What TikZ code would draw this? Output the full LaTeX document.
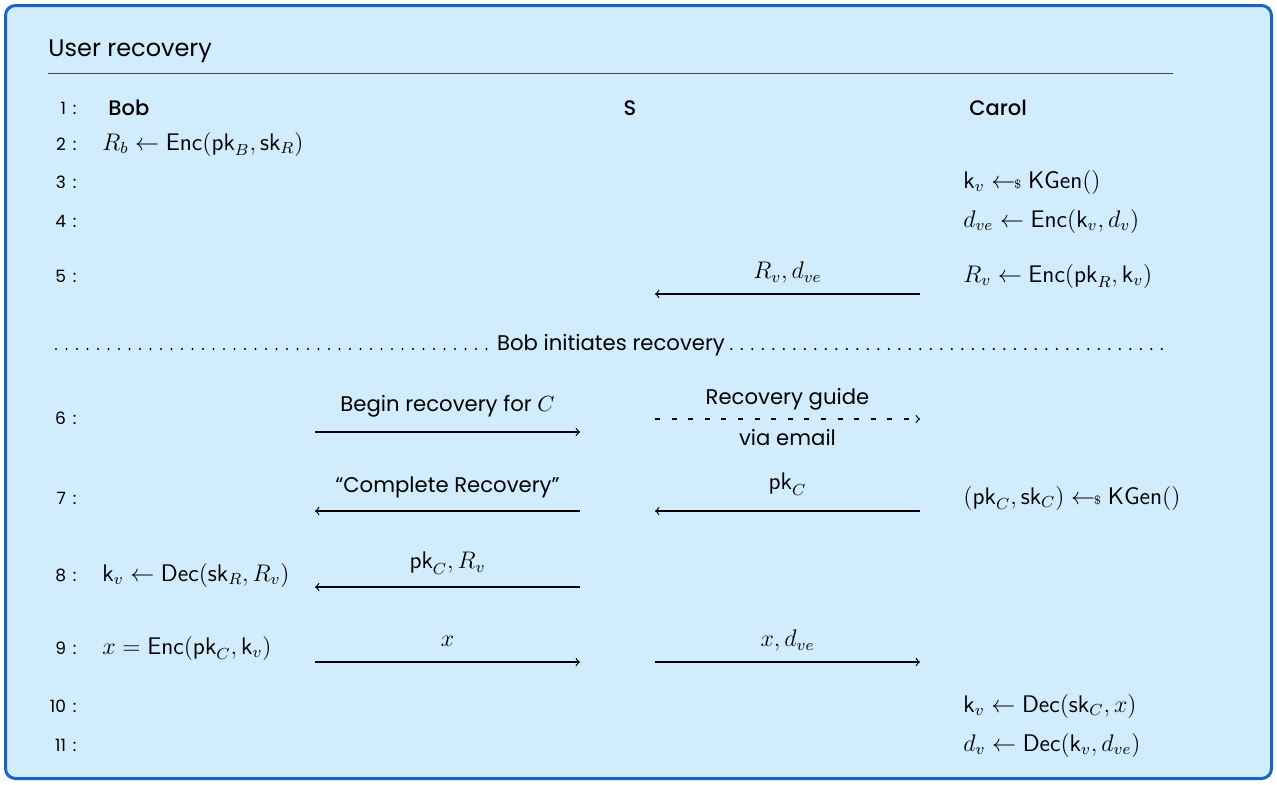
\documentclass[tikz,border=0pt]{standalone}
\usepackage{amsmath}
\usepackage{fontspec}
\setmainfont{Poppins}
\newfontfamily\partyfont{Poppins Medium}
\newcommand{\smp}{\mathrel{\leftarrow\!\!{\scriptscriptstyle\$}}}
\newcommand{\fn}[1]{\mathsf{#1}}
\definecolor{bgcol}{RGB}{208,236,253}
\definecolor{bordercol}{RGB}{23,99,198}
\definecolor{rulecol}{RGB}{70,70,70}
\tikzset{
  num/.style={anchor=east, inner sep=0pt, font=\fontsize{8.5}{10}\selectfont},
  cell/.style={anchor=west, inner sep=0pt, font=\fontsize{12}{14}\selectfont},
  party/.style={inner sep=0pt, font=\fontsize{10.5}{12}\partyfont},
  lbl/.style={inner sep=0pt, font=\fontsize{10.6}{12}\selectfont},
  mlbl/.style={inner sep=0pt, font=\fontsize{12}{14}\selectfont},
  msg/.style={line width=0.6pt, -to},
  dmsg/.style={line width=0.6pt, -to, dash pattern=on 2.5pt off 5.8pt},
  dots/.style={line width=1.2pt, line cap=round, dash pattern=on 0pt off 5.25pt},
}
\begin{document}
\begin{tikzpicture}[x=0.5pt, y=-0.5pt]
\path[use as bounding box] (0,0) rectangle (1277,784);
\draw[draw=bordercol, line width=1.5pt, fill=bgcol, rounded corners=5pt] (5.5,5.5) rectangle (1271.5,778.5);
% title
\node[anchor=west, inner sep=0pt, font=\fontsize{12}{14}\selectfont] (title) at (48,51) {User recovery};
\coordinate (rl) at (48,73);
\coordinate (rr) at (1173,73);
\draw[rulecol, line width=0.5pt] (rl) -- (rr);
% line numbers
\foreach \n/\y in {1/108,2/144,3/182,4/221,5/276,6/418,7/498,8/575,9/648,10/706,11/745}{
  \node[num] (n\n) at (77,\y) {\n\hspace{3.5pt}:};
}
% parties
\node[party, anchor=west] (bob) at (108,108) {Bob};
\node[party] (srv) at (630,108) {S};
\node[party, anchor=west] (carol) at (969,108) {Carol};
% left column
\node[cell] (l2) at (102,144) {$R_b \leftarrow \fn{Enc}(\fn{pk}_B, \fn{sk}_R)$};
\node[cell] (l8) at (102,575) {$\fn{k}_v \leftarrow \fn{Dec}(\fn{sk}_R, R_v)$};
\node[cell] (l9) at (102,648) {$x = \fn{Enc}(\fn{pk}_C, \fn{k}_v)$};
% right column
\node[cell] (r3) at (963,182) {$\fn{k}_v \smp \fn{KGen}()$};
\node[cell] (r4) at (963,221) {$d_{ve} \leftarrow \fn{Enc}(\fn{k}_v, d_v)$};
\node[cell] (r5) at (963,276) {$R_v \leftarrow \fn{Enc}(\fn{pk}_R, \fn{k}_v)$};
\node[cell] (r7) at (963,498) {$(\fn{pk}_C, \fn{sk}_C) \smp \fn{KGen}()$};
\node[cell] (r10) at (963,706) {$\fn{k}_v \leftarrow \fn{Dec}(\fn{sk}_C, x)$};
\node[cell] (r11) at (963,745) {$d_v \leftarrow \fn{Dec}(\fn{k}_v, d_{ve})$};
% separator
\node[lbl, anchor=base, inner xsep=0pt] (sep) at (611,350) {Bob initiates recovery};
\coordinate (sl) at (56,349);
\coordinate (sr) at (1164,349);
\draw[dots] (sl) -- ([xshift=-3pt]sep.west |- sl);
\draw[dots] ([xshift=3pt]sep.east |- sr) -- (sr);
% arrows
\coordinate (a5s) at (920,294); \coordinate (a5e) at (655,294);
\draw[msg] (a5s) -- (a5e) node[midway, mlbl, above=5pt] (m5) {$R_v, d_{ve}$};
\coordinate (a6s) at (315,432); \coordinate (a6e) at (580,432);
\draw[msg] (a6s) -- (a6e) node[midway, lbl, above=7pt] (m6) {Begin recovery for $C$};
\coordinate (b6s) at (655,419); \coordinate (b6e) at (920,419);
\draw[dmsg] (b6s) -- (b6e) node[midway, lbl, above=4pt] (m6a) {Recovery guide} node[midway, lbl, below=5pt] (m6b) {via email};
\coordinate (a7s) at (580,511); \coordinate (a7e) at (315,511);
\draw[msg] (a7s) -- (a7e) node[midway, lbl, above=6pt] (m7) {“Complete Recovery”};
\coordinate (b7s) at (920,511); \coordinate (b7e) at (655,511);
\draw[msg] (b7s) -- (b7e) node[midway, mlbl, above=7.5pt] (m7b) {$\fn{pk}_C$};
\coordinate (a8s) at (580,587); \coordinate (a8e) at (315,587);
\draw[msg] (a8s) -- (a8e) node[midway, mlbl, above=6pt] (m8) {$\fn{pk}_C, R_v$};
\coordinate (a9s) at (315,662); \coordinate (a9e) at (580,662);
\draw[msg] (a9s) -- (a9e) node[midway, mlbl, above=7.5pt] (m9) {$x$};
\coordinate (b9s) at (655,662); \coordinate (b9e) at (920,662);
\draw[msg] (b9s) -- (b9e) node[midway, mlbl, above=5pt] (m9b) {$x, d_{ve}$};
\end{tikzpicture}
\end{document}
